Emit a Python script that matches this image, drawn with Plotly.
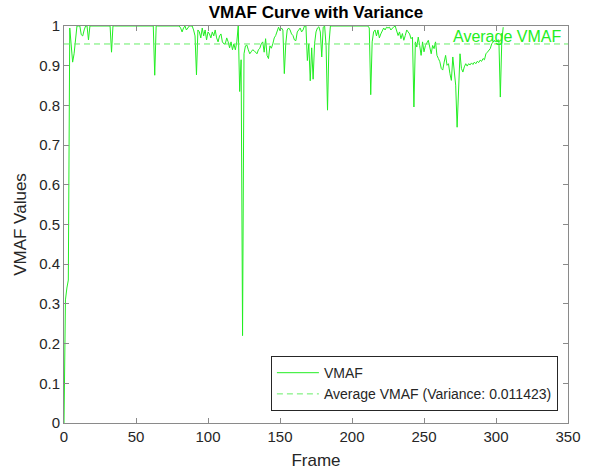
import plotly.graph_objects as go

# VMAF score per frame
vmaf = [
    0.0, 0.31, 0.34, 0.36, 0.995, 0.95, 0.909, 0.93, 0.97, 1.0,      # 0-9
    1.0, 1.0, 0.978, 0.975, 0.99, 1.0, 1.0, 0.965, 1.0, 1.0,         # 10-19
    1.0, 1.0, 1.0, 1.0, 1.0, 1.0, 1.0, 1.0, 1.0, 1.0,                # 20-29
    1.0, 1.0, 1.0, 0.934, 1.0, 1.0, 1.0, 1.0, 1.0, 1.0,              # 30-39
    1.0, 1.0, 1.0, 1.0, 1.0, 1.0, 1.0, 1.0, 1.0, 1.0,                # 40-49
    1.0, 1.0, 1.0, 1.0, 1.0, 1.0, 1.0, 1.0, 1.0, 1.0,                # 50-59
    1.0, 1.0, 1.0, 0.876, 1.0, 1.0, 1.0, 1.0, 1.0, 1.0,              # 60-69
    1.0, 1.0, 1.0, 1.0, 1.0, 1.0, 1.0, 1.0, 1.0, 1.0,                # 70-79
    1.0, 0.995, 0.985, 0.995, 1.0, 0.99, 0.995, 1.0, 1.0, 1.0,       # 80-89
    0.99, 0.975, 0.877, 0.99, 0.985, 0.97, 0.995, 0.975, 0.99, 0.965,  # 90-99
    0.985, 0.98, 0.97, 0.985, 0.975, 0.99, 0.97, 0.96, 0.975, 0.98,  # 100-109
    0.96, 0.955, 0.955, 0.97, 0.96, 0.945, 0.96, 0.94, 0.955, 0.94,  # 110-119
    0.96, 1.0, 0.835, 0.915, 0.22, 0.93, 0.95, 0.952, 0.94, 0.93,    # 120-129
    0.935, 0.94, 0.938, 0.935, 0.93, 0.94, 0.944, 0.955, 0.96, 0.934,  # 130-139
    0.968, 0.926, 0.918, 0.95, 0.944, 0.955, 0.97, 0.976, 0.99, 0.997,  # 140-149
    0.988, 0.995, 0.99, 0.88, 0.955, 0.99, 0.995, 0.99, 0.98, 0.976,  # 150-159
    0.965, 0.963, 0.985, 0.99, 0.995, 0.985, 0.99, 1.0, 1.0, 0.913,  # 160-169
    0.955, 0.862, 0.945, 0.866, 0.955, 0.985, 0.995, 0.998, 0.985, 0.922,  # 170-179
    0.997, 1.0, 0.95, 0.788, 0.955, 1.0, 1.0, 1.0, 1.0, 1.0,         # 180-189
    1.0, 1.0, 1.0, 1.0, 1.0, 1.0, 1.0, 1.0, 1.0, 1.0,                # 190-199
    1.0, 1.0, 1.0, 1.0, 1.0, 1.0, 1.0, 1.0, 1.0, 1.0,                # 200-209
    1.0, 1.0, 0.995, 0.827, 0.96, 0.985, 0.99, 0.975, 0.99, 0.97,    # 210-219
    0.98, 0.99, 0.995, 0.99, 0.997, 0.995, 0.997, 0.99, 0.995, 0.998,  # 220-229
    1.0, 0.99, 0.976, 0.985, 0.968, 0.981, 0.964, 0.976, 0.99, 0.985,  # 230-239
    0.98, 0.968, 0.972, 0.796, 0.96, 0.947, 0.972, 0.951, 0.926, 0.96,  # 240-249
    0.935, 0.951, 0.958, 0.964, 0.947, 0.93, 0.951, 0.943, 0.96, 0.926,  # 250-259
    0.918, 0.91, 0.893, 0.889, 0.909, 0.926, 0.901, 0.905, 0.88, 0.863,  # 260-269
    0.922, 0.893, 0.851, 0.745, 0.859, 0.93, 0.893, 0.884, 0.897, 0.905,  # 270-279
    0.899, 0.905, 0.902, 0.907, 0.903, 0.909, 0.905, 0.911, 0.908, 0.914,  # 280-289
    0.911, 0.918, 0.915, 0.93, 0.934, 0.94, 0.943, 0.955, 0.96, 0.964,  # 290-299
    0.96, 0.964, 0.965, 0.821, 0.96, 0.997,                          # 300-305
]
frames = list(range(len(vmaf)))

avg_vmaf = 0.9547          # dashed average line
variance_text = "0.011423"

x_ticks = [0, 50, 100, 150, 200, 250, 300, 350]
y_ticks = [0, 0.1, 0.2, 0.3, 0.4, 0.5, 0.6, 0.7, 0.8, 0.9, 1]

FONT = "Liberation Sans, Arial, Helvetica, sans-serif"
TXT = "#262626"
AX = "#8a8a8a"

fig = go.Figure()
fig.add_trace(go.Scatter(
    x=frames, y=vmaf, mode="lines", name="VMAF",
    line=dict(color="#22ee22", width=1),
))
fig.add_trace(go.Scatter(
    x=[x_ticks[0], x_ticks[-1]], y=[avg_vmaf, avg_vmaf], mode="lines",
    name=f"Average VMAF (Variance: {variance_text})",
    line=dict(color="#66ee66", width=1, dash="6px,4px"),
))

fig.add_annotation(x=307.5, y=avg_vmaf, xref="x", yref="y", text="Average VMAF",
                   showarrow=False, xanchor="center", yanchor="bottom", yshift=-3,
                   font=dict(family=FONT, size=16, color="#22ee22"))

axis_common = dict(
    showgrid=False, zeroline=False, showline=True, linecolor=AX, linewidth=1,
    mirror="ticks", ticks="inside", ticklen=5, tickcolor=AX, tickwidth=1,
    tickfont=dict(family=FONT, size=15, color=TXT), automargin=False,
)

fig.update_layout(
    width=589, height=472,
    margin=dict(l=64, r=21, t=26, b=49),
    paper_bgcolor="white", plot_bgcolor="white",
    title=dict(text="<b>VMAF Curve with Variance</b>", x=0.5, xref="paper",
               xanchor="center", y=1 - 12 / 472, yref="container", yanchor="middle",
               font=dict(family=FONT, size=17, color="black"), automargin=False),
    xaxis=dict(range=[0, 350], tickvals=x_ticks, ticktext=[str(v) for v in x_ticks],
               title=dict(text="Frame", standoff=10,
                          font=dict(family=FONT, size=17, color=TXT)),
               **axis_common),
    yaxis=dict(range=[0, 1], tickvals=y_ticks, ticktext=[f"{v:g}" for v in y_ticks],
               title=dict(text="VMAF Values", standoff=8,
                          font=dict(family=FONT, size=17, color=TXT)),
               **axis_common),
    legend=dict(x=0.98, y=0.03, xanchor="right", yanchor="bottom",
                bgcolor="white", bordercolor="#262626", borderwidth=1,
                font=dict(family=FONT, size=14, color=TXT),
                tracegroupgap=0, itemwidth=42),
    showlegend=True,
)

fig.write_html("out.html")
